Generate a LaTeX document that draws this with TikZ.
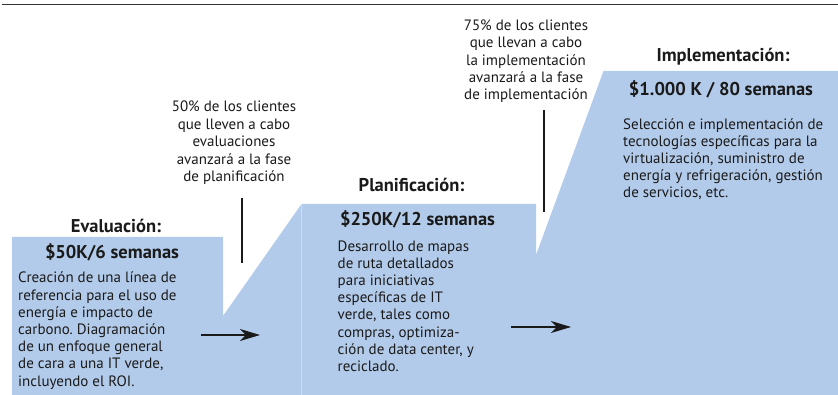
\documentclass[tikz,border=0pt]{standalone}
\usepackage{fontspec}
\setmainfont{PT Sans}
\usetikzlibrary{arrows.meta}
\definecolor{phase}{RGB}{179,203,234}
\definecolor{seam}{RGB}{202,219,242}
\definecolor{ink}{RGB}{26,26,26}
\frenchspacing
\begin{document}
\begin{tikzpicture}[x=1pt,y=-1pt,
  head/.style={font=\bfseries\fontsize{18.5}{21}\selectfont, anchor=base, inner sep=0pt, text=ink},
  body/.style={font=\fontsize{15}{17.2}\selectfont\frenchspacing, align=left, anchor=base west, inner sep=0pt, text=ink},
  note/.style={font=\fontsize{15}{17.4}\selectfont, align=center, anchor=base, inner sep=0pt, text=ink},
  flow/.style={draw=ink, line width=1.1pt, -{Stealth[length=20pt,width=12pt,inset=6pt]}},
  tick/.style={draw=ink, line width=1.1pt},
  rule/.style={draw=black!80, line width=1.5pt}]
\useasboundingbox (0,0) rectangle (838,395);
% top rule
\coordinate (r1) at (2,4.5);
\coordinate (r2) at (838,4.5);
\draw[rule] (r1) -- (r2);
% phase shapes
\fill[phase] (12,237) -- (223,237) -- (223,316) -- (301.5,204) -- (301.5,395) -- (12,395) -- cycle;
\fill[phase] (301.5,204) -- (536,204) -- (536,255) -- (603.5,71) -- (838,71) -- (838,395) -- (301.5,395) -- cycle;
\draw[seam, line width=0.8pt] (301.7,204) -- (301.7,395);
% headings (anchor = baseline)
\node[head] (h1) at (116,233) {Evaluación:};
\node[head] (c1) at (112,259) {\$50K/6 semanas};
% multi-line nodes: anchor = baseline of the last line
\node[body] (b1) at (18,386) {Creación de una línea de\\referencia para el uso de\\energía e impacto de\\carbono. Diagramación\\de un enfoque general\\de cara a una IT verde,\\incluyendo el ROI.};
\node[head] (h2) at (411.5,192) {Planificación:};
\node[head] (c2) at (417.5,226) {\$250K/12 semanas};
\node[body] (b2) at (337.5,371.5) {Desarrollo de mapas\\de ruta detallados\\para iniciativas\\específicas de IT\\verde, tales como\\compras, optimiza-\\ción de data center, y\\reciclado.};
\node[head] (h3) at (723,62) {Implementación:};
\node[head] (c3) at (721,96) {\$1.000 K / 80 semanas};
\node[body] (b3) at (623,198) {Selección e implementación de\\tecnologías específicas para la\\virtualización, suministro de\\energía y refrigeración, gestión\\de servicios, etc.};
% notes
\node[note] (n1) at (234,181.5) {50\% de los clientes\\que lleven a cabo\\evaluaciones\\avanzará a la fase\\de planificación};
\node[note] (n2) at (526,100) {75\% de los clientes\\que llevan a cabo\\la implementación\\avanzará a la fase\\de implementación};
% ticks
\coordinate (t1a) at (242,198);
\coordinate (t1b) at (242,263);
\coordinate (t2a) at (544,110);
\coordinate (t2b) at (544,212);
\draw[tick] (t1a) -- (t1b);
\draw[tick] (t2a) -- (t2b);
% arrows
\coordinate (a1s) at (201,335);
\coordinate (a1e) at (260,335);
\coordinate (a2s) at (511,327);
\coordinate (a2e) at (571,327);
\draw[flow] (a1s) -- (a1e);
\draw[flow] (a2s) -- (a2e);
\end{tikzpicture}
\end{document}
